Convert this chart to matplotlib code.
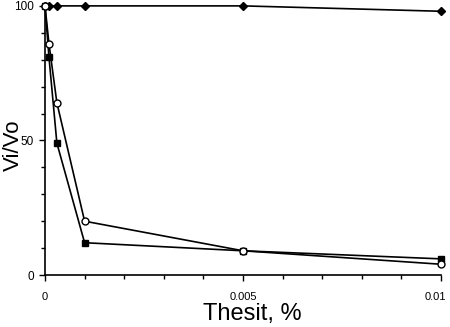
import matplotlib
matplotlib.use("Agg")
import matplotlib.pyplot as plt
from matplotlib.ticker import MultipleLocator
from matplotlib.transforms import ScaledTranslation

plt.rcParams['font.family'] = ['Liberation Sans', 'DejaVu Sans']

# ------------------------
# Data
# ------------------------
thesit_diamond = [0, 0.0001, 0.0003, 0.001, 0.005, 0.01]
vi_diamond = [100, 100, 100, 100, 100, 98]

thesit = [0, 0.0001, 0.0003, 0.001, 0.005, 0.01]
vi_square = [100, 81, 49, 12, 9, 6]
vi_circle = [100, 86, 64, 20, 9, 4]

x_ticks = [0, 0.005, 0.01]
x_labels = ["0", "0.005", "0.01"]
y_ticks = [0, 50, 100]

# ------------------------
# Plot
# ------------------------
fig = plt.figure(figsize=(4.5, 3.27), dpi=100)
ax = fig.add_axes([0.1, 0.159, 0.88, 0.823])

ax.plot(thesit_diamond, vi_diamond, color="black", lw=1.2, marker="D",
        ms=4, mfc="black", mec="black", clip_on=False, zorder=3)
ax.plot(thesit, vi_square, color="black", lw=1.2, marker="s",
        ms=5, mfc="black", mec="black", clip_on=False, zorder=3)
ax.plot(thesit, vi_circle, color="black", lw=1.2, marker="o",
        ms=5, mfc="white", mec="black", mew=1.0, clip_on=False, zorder=4)

ax.set_xlim(0, 0.01)
ax.set_ylim(0, 100)

ax.spines["top"].set_visible(False)
ax.spines["right"].set_visible(False)
ax.spines["left"].set_linewidth(1.2)
ax.spines["bottom"].set_linewidth(1.2)

ax.set_xticks(x_ticks)
ax.set_xticklabels(x_labels)
ax.xaxis.set_minor_locator(MultipleLocator(0.001))
ax.set_yticks(y_ticks)
ax.yaxis.set_minor_locator(MultipleLocator(10))

ax.tick_params(axis="both", which="both", direction="out", width=1.0)
ax.tick_params(axis="both", which="major", length=4)
ax.tick_params(axis="both", which="minor", length=3)
ax.tick_params(axis="x", which="major", pad=8, labelsize=8)
ax.tick_params(axis="y", which="major", pad=4, labelsize=8.5)

# last x label sits a little left of its tick, as in the original
last = ax.get_xticklabels()[-1]
last.set_transform(last.get_transform() + ScaledTranslation(-4 / 72, 0, fig.dpi_scale_trans))

ax.set_xlabel("Thesit, %", fontsize=17)
ax.xaxis.set_label_coords(0.523, -0.105)
ax.xaxis.label.set_va("top")
ax.set_ylabel("Vi/Vo", fontsize=16)
ax.yaxis.set_label_coords(-0.081, 0.483)
ax.yaxis.label.set_va("center")

fig.savefig("out.png", dpi=100)
